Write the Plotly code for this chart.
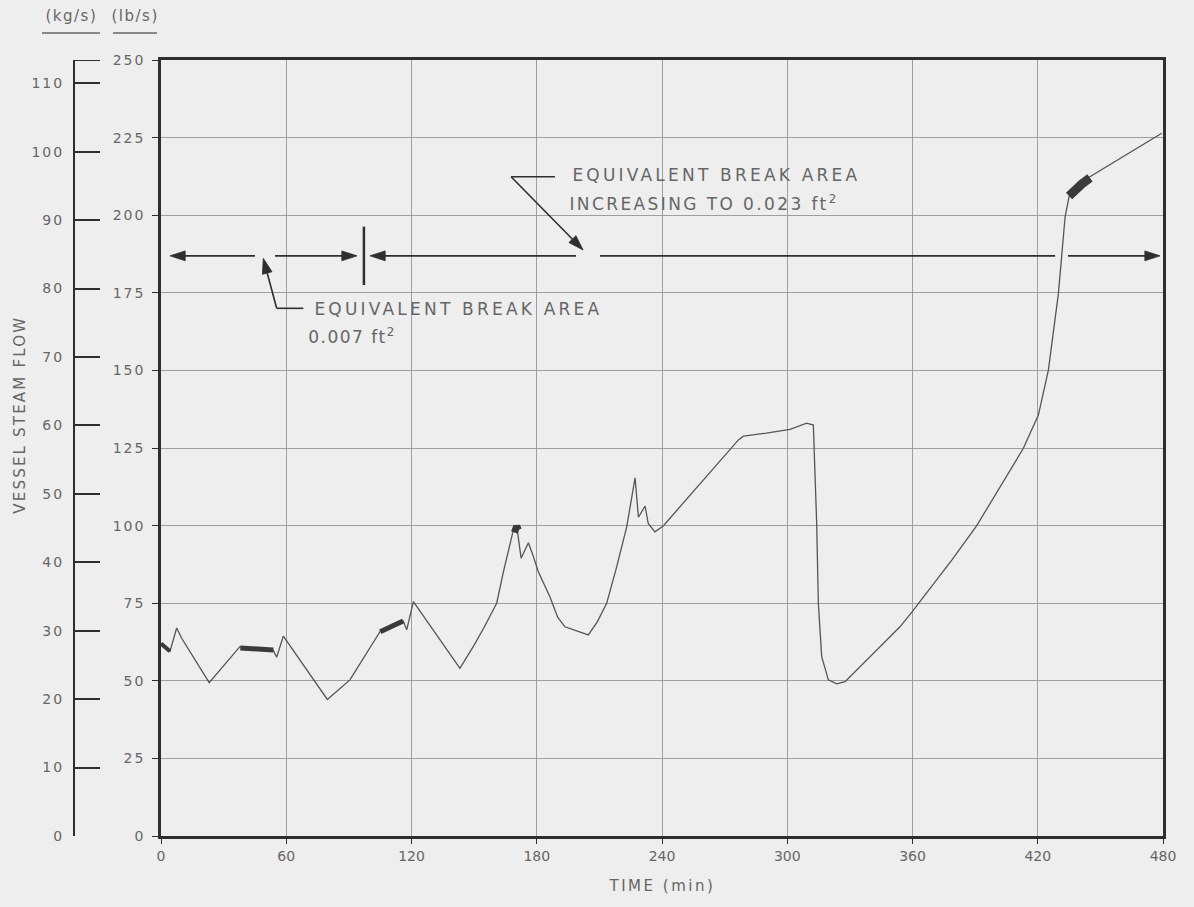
import plotly.graph_objects as go

# ---------------- data ----------------
time_min = [0, 4.3, 7.5, 9.9, 23.1, 37.8, 45, 53.8, 55.4, 58.6, 79.7, 90.5, 104.9, 110, 116.1, 117.7,
            120.9, 143.2, 150, 155, 160.8, 164, 168.8, 170.4, 172.5, 176, 178.4, 180.7, 186.3, 190,
            193.5, 199, 204.7, 209, 213.5, 218, 223.1, 227.1, 228.7, 231.9, 233.4, 236.6, 240.6,
            276.6, 279, 290, 301.3, 309.3, 312.5, 314.1, 314.9, 316.5, 319.7, 323.7, 327.7, 354,
            359.8, 378.8, 390.7, 413.1, 420.3, 425.1, 429.9, 433.1, 435, 440, 444, 479.4]
flow_lbs = [62, 59.5, 67, 63.7, 49.4, 61, 60.3, 59.8, 57.6, 64.4, 44.0, 50.3, 65.8, 67, 69.2, 66.4,
            75.5, 54.0, 61.5, 67.5, 75, 85, 98.6, 100, 89.5, 94.5, 90, 85.2, 77.1, 70.5,
            67.4, 66.2, 64.8, 69, 75, 86, 99.6, 115.4, 102.7, 106.3, 100.7, 98, 99.9,
            127.6, 128.8, 129.8, 131, 133, 132.4, 100.7, 75, 57.8, 50.3, 49.0, 49.7, 67.4,
            72.2, 88.9, 99.9, 124.9, 135.6, 150.1, 174.8, 199.5, 206, 209.5, 212, 226.4]

# noisy (thick) portions of the trace: (times, flows, stroke width)
noisy_segments = [
    ([0, 4.3], [62, 59.5], 4),
    ([38, 46, 53.8], [60.6, 60.2, 59.9], 5),
    ([105, 110, 116], [65.8, 67.3, 69.3], 5),
    ([169.3, 170.4, 171.2], [97.8, 99.8, 98.6], 7),
    ([435, 438, 441, 445], [206.2, 208.5, 210, 212], 9),
]

x_ticks = [0, 60, 120, 180, 240, 300, 360, 420, 480]
lb_ticks = [0, 25, 50, 75, 100, 125, 150, 175, 200, 225, 250]
kg_ticks = [0, 10, 20, 30, 40, 50, 60, 70, 80, 90, 100, 110]
LB_TO_KG = 0.45359237
Y_MAX_LB = 250

# break-area marker row (lb/s level) and annotation geometry
row_level = 186.9
row_segments = [(210.3, 428.3)]
arrow_tail_x = [45.0, 54.6, 198.8, 434.5, 55.4, 167.7]
arrow_tail_y = [row_level, row_level, row_level, row_level, 170.0, 212.4]
arrow_head_x = [4.3, 93.9, 100.1, 478.6, 49.0, 202.2]
arrow_head_y = [row_level, row_level, row_level, row_level, 186.1, 188.8]
leaders = [((55.4, 170.0), (68.2, 170.0)), ((167.7, 212.4), (188.7, 212.4))]
divider = (97.2, 177.5, 196.3)

labels = [  # (text, center_x, y, letter spacing px)
    ("EQUIVALENT BREAK AREA", 142.3, 169.8, 3.2),
    ("0.007 ft<sup>2</sup>", 91.3, 161.1, 1.5),
    ("EQUIVALENT BREAK AREA", 265.9, 213.0, 3.2),
    ("INCREASING TO 0.023 ft<sup>2</sup>", 259.9, 203.9, 2.4),
]

# ---------------- figure ----------------
W, H = 1194, 907
ML, MR, MT, MB = 0, 31, 60, 71
PW = W - ML - MR
PH = H - MT - MB
def px_x(p):
    return (p - ML) / PW
def px_y(p):
    return (H - MB - p) / PH

INK = "#2e2e2e"
CURVE = "#555555"
TXT = "#666666"
GRID = "#9e9e9e"
BG = "#eeeeee"
FONT = "DejaVu Sans"

fig = go.Figure()
fig.add_trace(go.Scatter(x=time_min, y=flow_lbs, mode="lines",
                         line=dict(color=CURVE, width=1.3), hoverinfo="skip", showlegend=False))
for xs, ys, w in noisy_segments:
    fig.add_trace(go.Scatter(x=xs, y=ys, mode="lines",
                             line=dict(color="#3a3a3a", width=w), hoverinfo="skip", showlegend=False))
# arrows: shaft + arrow-head marker oriented along the shaft
for tx, ty, hx, hy in zip(arrow_tail_x, arrow_tail_y, arrow_head_x, arrow_head_y):
    fig.add_trace(go.Scatter(x=[tx, hx], y=[ty, hy], mode="lines+markers",
                             line=dict(color=INK, width=1.6),
                             marker=dict(symbol="arrow", size=[0, 16], color=INK, opacity=1,
                                         angleref="previous", line=dict(width=0.8, color=INK)),
                             hoverinfo="skip", showlegend=False))
# kg/s axis carrier (invisible)
fig.add_trace(go.Scatter(x=[0], y=[0], yaxis="y2", mode="lines", line=dict(width=0),
                         hoverinfo="skip", showlegend=False))

annotations = []
for text, cx, cy, _ in labels:
    annotations.append(dict(x=cx, y=cy, xref="x", yref="y", text=text, showarrow=False,
                            xanchor="center", yanchor="middle",
                            font=dict(family=FONT, size=17, color=TXT)))
extra = [  # (text, x, xref, y, angle, size, spacing)
    ("VESSEL STEAM FLOW", px_x(20), "paper", px_y(415), -90, 15, 2.2),
    ("(kg/s)", px_x(71), "paper", px_y(16), 0, 15, 1.5),
    ("(lb/s)", px_x(135), "paper", px_y(16), 0, 15, 1.5),
    ("TIME (min)", 240, "x", px_y(886), 0, 15, 2.5),
]
for text, x, xref, y, ang, size, _ in extra:
    annotations.append(dict(x=x, y=y, xref=xref, yref="paper", text=text, textangle=ang,
                            showarrow=False, xanchor="center", yanchor="middle",
                            font=dict(family=FONT, size=size, color=TXT)))

shapes = []
for x0, x1 in row_segments:
    shapes.append(dict(type="line", xref="x", yref="y", x0=x0, x1=x1, y0=row_level, y1=row_level,
                       line=dict(color=INK, width=1.6)))
for (x0, y0), (x1, y1) in leaders:
    shapes.append(dict(type="line", xref="x", yref="y", x0=x0, x1=x1, y0=y0, y1=y1,
                       line=dict(color=INK, width=1.6)))
shapes.append(dict(type="line", xref="x", yref="y", x0=divider[0], x1=divider[0],
                   y0=divider[1], y1=divider[2], line=dict(color=INK, width=2.5)))
for a, b in [(42, 100), (113, 157)]:
    shapes.append(dict(type="line", xref="paper", yref="paper", x0=px_x(a), x1=px_x(b),
                       y0=px_y(33), y1=px_y(33), line=dict(color=TXT, width=1.5)))
# cap at the top of the kg/s scale (level of 250 lb/s)
shapes.append(dict(type="line", xref="paper", yref="y", x0=px_x(73), x1=px_x(100),
                   y0=Y_MAX_LB, y1=Y_MAX_LB, line=dict(color=INK, width=2)))

fig.update_layout(
    width=W, height=H, autosize=False,
    margin=dict(l=ML, r=MR, t=MT, b=MB, pad=0),
    paper_bgcolor=BG, plot_bgcolor=BG,
    font=dict(family=FONT, size=14, color=TXT),
    showlegend=False,
    annotations=annotations, shapes=shapes,
    xaxis=dict(domain=[px_x(161), 1], range=[0, 480], tickvals=x_ticks,
               showgrid=True, gridcolor=GRID, gridwidth=1, zeroline=False,
               showline=True, mirror=True, linecolor=INK, linewidth=2.5,
               ticks="outside", ticklen=5, tickcolor=INK, tickfont=dict(size=14, color=TXT),
               automargin=False),
    yaxis=dict(range=[0, Y_MAX_LB], tickvals=lb_ticks,
               showgrid=True, gridcolor=GRID, gridwidth=1, zeroline=False,
               showline=True, mirror=True, linecolor=INK, linewidth=2.5,
               ticks="outside", ticklen=6, tickcolor=INK, tickfont=dict(size=14, color=TXT),
               ticklabelstandoff=4, automargin=False),
    yaxis2=dict(overlaying="y", anchor="free", position=px_x(74), side="left",
                range=[0, Y_MAX_LB * LB_TO_KG], tickvals=kg_ticks,
                showgrid=False, zeroline=False, showline=True, linecolor=INK, linewidth=2,
                ticks="inside", ticklen=25, tickwidth=2, tickcolor=INK,
                tickfont=dict(size=14, color=TXT), ticklabelstandoff=6, automargin=False),
)

spacings = [sp for *_, sp in labels] + [sp for *_, sp in extra]
spacing_js = "".join(
    "q('g.annotation[data-index=\"%d\"] .annotation-text','%gpx');" % (i, sp)
    for i, sp in enumerate(spacings)
)
post = (
    "var gd=document.getElementById('{plot_id}');"
    "function q(s,v){gd.querySelectorAll(s).forEach(function(e){e.style.letterSpacing=v;});}"
    "q('.ytick text','2px');q('.y2tick text','2px');"
    + spacing_js
)

fig.write_html("out.html", post_script=post)
